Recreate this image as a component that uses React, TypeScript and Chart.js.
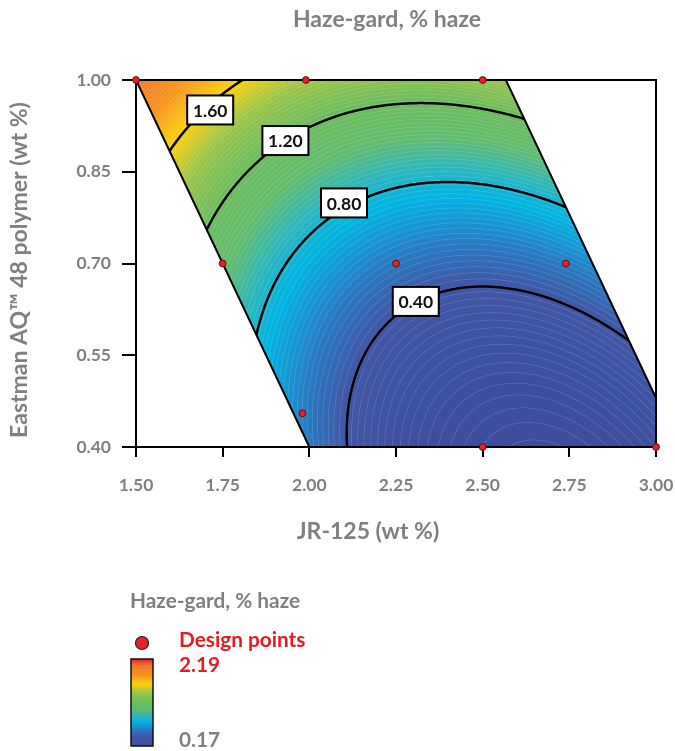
import React, { useEffect, useRef } from 'react';
import { Chart, registerables } from 'chart.js';

Chart.register(...registerables);

// ---------------- data ----------------
const designX = [1.5, 1.99, 2.5, 1.75, 2.25, 2.74, 1.98, 2.5, 3.0];
const designY = [1.0, 1.0, 1.0, 0.7, 0.7, 0.7, 0.455, 0.4, 0.4];
// feasible (constrained) design region, polygon vertices
const regionX = [1.5, 2.567, 3.0, 3.0, 2.0];
const regionY = [1.0, 1.0, 0.48, 0.4, 0.4];
const contourLevels = [0.4, 0.8, 1.2, 1.6];
const contourLabelX = [2.307, 2.1, 1.931, 1.714];
const contourLabelY = [0.638, 0.799, 0.901, 0.951];
const xTickValues = [1.5, 1.75, 2.0, 2.25, 2.5, 2.75, 3.0];
const yTickValues = [0.4, 0.55, 0.7, 0.85, 1.0];
const hazeRange = [0.17, 2.19];
// quadratic response surface: b0, bX, bY, bXX, bYY, bXY
const surfaceCoef = [9.39, -6.325, -5.181, 1.094, 2.915, 1.291];

// ---------------- styles ----------------
const FONT = 'Lato, "Open Sans", sans-serif';
const GRAY = '#7f7f7f';
const RED = '#e31b23';
const COLOR_STOPS: [number, string][] = [
  [0.0, '#3d4e9e'],
  [0.12, '#3f58a7'],
  [0.2, '#2384c8'],
  [0.28, '#00b5e3'],
  [0.34, '#2bb6bf'],
  [0.42, '#62bc6e'],
  [0.52, '#6dbd5d'],
  [0.62, '#9cc64a'],
  [0.71, '#fdd10d'],
  [0.81, '#f7951e'],
  [0.92, '#f2792b'],
  [1.0, '#e5202a'],
];

function hexRgb(h: string): number[] {
  return [parseInt(h.slice(1, 3), 16), parseInt(h.slice(3, 5), 16), parseInt(h.slice(5, 7), 16)];
}
const STOP_RGB = COLOR_STOPS.map(([t, c]) => [t, hexRgb(c)] as [number, number[]]);

function colorAt(t: number): number[] {
  if (t <= 0) return STOP_RGB[0][1].slice();
  if (t >= 1) return STOP_RGB[STOP_RGB.length - 1][1].slice();
  for (let i = 1; i < STOP_RGB.length; i++) {
    const [t1, c1] = STOP_RGB[i];
    const [t0, c0] = STOP_RGB[i - 1];
    if (t <= t1) {
      const u = (t - t0) / (t1 - t0);
      return [c0[0] + (c1[0] - c0[0]) * u, c0[1] + (c1[1] - c0[1]) * u, c0[2] + (c1[2] - c0[2]) * u];
    }
  }
  return STOP_RGB[STOP_RGB.length - 1][1].slice();
}

function surface(x: number, y: number): number {
  const c = surfaceCoef;
  return c[0] + c[1] * x + c[2] * y + c[3] * x * x + c[4] * y * y + c[5] * x * y;
}
function surfaceGrad(x: number, y: number): number[] {
  const c = surfaceCoef;
  return [c[1] + 2 * c[3] * x + c[5] * y, c[2] + 2 * c[4] * y + c[5] * x];
}

function polygonPath(ctx: CanvasRenderingContext2D, xs: any, ys: any) {
  ctx.beginPath();
  regionX.forEach((vx, i) => {
    const px = xs.getPixelForValue(vx);
    const py = ys.getPixelForValue(regionY[i]);
    if (i === 0) ctx.moveTo(px, py);
    else ctx.lineTo(px, py);
  });
  ctx.closePath();
}

function contourSegments(level: number, x0: number, x1: number, y0: number, y1: number, nx: number, ny: number) {
  const vals: number[] = new Array((nx + 1) * (ny + 1));
  const gx = (i: number) => x0 + ((x1 - x0) * i) / nx;
  const gy = (j: number) => y0 + ((y1 - y0) * j) / ny;
  for (let j = 0; j <= ny; j++) for (let i = 0; i <= nx; i++) vals[j * (nx + 1) + i] = surface(gx(i), gy(j)) - level;
  const segs: number[][] = [];
  for (let j = 0; j < ny; j++) {
    for (let i = 0; i < nx; i++) {
      const a = vals[j * (nx + 1) + i];
      const b = vals[j * (nx + 1) + i + 1];
      const c = vals[(j + 1) * (nx + 1) + i + 1];
      const d = vals[(j + 1) * (nx + 1) + i];
      const pts: number[][] = [];
      const xa = gx(i), xb = gx(i + 1), ya = gy(j), yb = gy(j + 1);
      if ((a < 0) !== (b < 0)) pts.push([xa + ((xb - xa) * a) / (a - b), ya]);
      if ((b < 0) !== (c < 0)) pts.push([xb, ya + ((yb - ya) * b) / (b - c)]);
      if ((c < 0) !== (d < 0)) pts.push([xb + ((xa - xb) * c) / (c - d), yb]);
      if ((d < 0) !== (a < 0)) pts.push([xa, yb + ((ya - yb) * d) / (d - a)]);
      if (pts.length >= 2) segs.push([pts[0][0], pts[0][1], pts[1][0], pts[1][1]]);
      if (pts.length === 4) segs.push([pts[2][0], pts[2][1], pts[3][0], pts[3][1]]);
    }
  }
  return segs;
}

const surfacePlugin = {
  id: 'surfacePlugin',
  beforeDatasetsDraw(chart: any) {
    const { ctx, chartArea } = chart;
    const xs = chart.scales.x;
    const ys = chart.scales.y;
    const L = Math.floor(chartArea.left);
    const T = Math.floor(chartArea.top);
    const W = Math.ceil(chartArea.right) - L;
    const H = Math.ceil(chartArea.bottom) - T;
    const off = document.createElement('canvas');
    off.width = W;
    off.height = H;
    const octx = off.getContext('2d')!;
    const img = octx.createImageData(W, H);
    const [vmin, vmax] = hazeRange;
    const step = (vmax - vmin) / 100;
    const dxpp = Math.abs(xs.getValueForPixel(L + 1) - xs.getValueForPixel(L));
    const dypp = Math.abs(ys.getValueForPixel(T + 1) - ys.getValueForPixel(T));
    for (let py = 0; py < H; py++) {
      const dy = ys.getValueForPixel(T + py + 0.5);
      for (let px = 0; px < W; px++) {
        const dx = xs.getValueForPixel(L + px + 0.5);
        const v = surface(dx, dy);
        const col = colorAt((v - vmin) / (vmax - vmin));
        const g = surfaceGrad(dx, dy);
        const gp = Math.max(Math.hypot(g[0] * dxpp, g[1] * dypp), 1e-6);
        const q = v / step;
        const dist = (Math.abs(q - Math.round(q)) * step) / gp;
        const w = Math.max(0, 1 - dist / 0.75) * 0.15;
        const k = (py * W + px) * 4;
        img.data[k] = col[0] + (255 - col[0]) * w;
        img.data[k + 1] = col[1] + (255 - col[1]) * w;
        img.data[k + 2] = col[2] + (255 - col[2]) * w;
        img.data[k + 3] = 255;
      }
    }
    octx.putImageData(img, 0, 0);

    ctx.save();
    polygonPath(ctx, xs, ys);
    ctx.clip();
    ctx.drawImage(off, L, T);
    ctx.strokeStyle = '#000';
    ctx.lineWidth = 2.5;
    ctx.lineCap = 'round';
    ctx.lineJoin = 'round';
    contourLevels.forEach((lev) => {
      const segs = contourSegments(lev, xs.min, xs.max, ys.min, ys.max, 300, 200);
      ctx.beginPath();
      segs.forEach((s) => {
        ctx.moveTo(xs.getPixelForValue(s[0]), ys.getPixelForValue(s[1]));
        ctx.lineTo(xs.getPixelForValue(s[2]), ys.getPixelForValue(s[3]));
      });
      ctx.stroke();
    });
    ctx.restore();

    // region outline
    ctx.save();
    polygonPath(ctx, xs, ys);
    ctx.strokeStyle = '#000';
    ctx.lineWidth = 2;
    ctx.lineJoin = 'miter';
    ctx.stroke();
    // frame top / right
    ctx.beginPath();
    ctx.moveTo(chartArea.left, chartArea.top);
    ctx.lineTo(chartArea.right, chartArea.top);
    ctx.lineTo(chartArea.right, chartArea.bottom);
    ctx.lineWidth = 2;
    ctx.stroke();

    // contour labels
    ctx.font = `bold 17.5px ${FONT}`;
    ctx.textAlign = 'center';
    ctx.textBaseline = 'middle';
    contourLevels.forEach((lev, i) => {
      const cx = xs.getPixelForValue(contourLabelX[i]);
      const cy = ys.getPixelForValue(contourLabelY[i]);
      const bw = 46, bh = 29;
      ctx.fillStyle = '#fff';
      ctx.fillRect(cx - bw / 2, cy - bh / 2, bw, bh);
      ctx.lineWidth = 2;
      ctx.strokeStyle = '#000';
      ctx.strokeRect(cx - bw / 2, cy - bh / 2, bw, bh);
      ctx.fillStyle = '#111';
      ctx.fillText(lev.toFixed(2), cx, cy + 1);
    });
    ctx.restore();
  },
  afterDraw(chart: any) {
    const { ctx } = chart;
    ctx.save();
    ctx.fillStyle = GRAY;
    ctx.textBaseline = 'alphabetic';
    // chart title
    ctx.font = `bold 23px ${FONT}`;
    ctx.textAlign = 'center';
    ctx.fillText('Haze-gard, % haze', 387, 27);
    // x title
    ctx.fillText('JR-125 (wt %)', 368, 539);
    // y title
    ctx.save();
    ctx.translate(27, 270);
    ctx.rotate(-Math.PI / 2);
    ctx.fillText('Eastman AQ\u2122 48 polymer (wt %)', 0, 0);
    ctx.restore();

    // legend
    ctx.textAlign = 'left';
    ctx.font = `bold 20.8px ${FONT}`;
    ctx.fillStyle = GRAY;
    ctx.fillText('Haze-gard, % haze', 130, 608);
    ctx.beginPath();
    ctx.arc(142, 643, 6.5, 0, Math.PI * 2);
    ctx.fillStyle = '#e8202a';
    ctx.fill();
    ctx.lineWidth = 1.2;
    ctx.strokeStyle = '#222';
    ctx.stroke();
    ctx.fillStyle = RED;
    ctx.fillText('Design points', 179, 646.5);
    ctx.fillText(hazeRange[1].toFixed(2), 179, 672);
    ctx.fillStyle = GRAY;
    ctx.fillText(hazeRange[0].toFixed(2), 179, 747);
    const bx = 131, by = 659, bw = 22, bh = 87;
    const grad = ctx.createLinearGradient(0, by + bh, 0, by);
    COLOR_STOPS.forEach(([t, c]) => grad.addColorStop(t, c));
    ctx.fillStyle = grad;
    ctx.fillRect(bx, by, bw, bh);
    ctx.lineWidth = 1.5;
    ctx.strokeStyle = '#111';
    ctx.strokeRect(bx, by, bw, bh);
    ctx.restore();
  },
};

export default function App() {
  const ref = useRef<HTMLCanvasElement>(null);
  useEffect(() => {
    document.body.style.margin = '0';
    const canvas = ref.current!;
    const tickFont = { family: FONT, size: 17.5, weight: 'bold' as const };
    const chart = new Chart(canvas, {
      type: 'scatter',
      data: {
        datasets: [
          {
            label: 'Design points',
            data: designX.map((x, i) => ({ x, y: designY[i] })),
            pointRadius: 3.4,
            pointHoverRadius: 3.4,
            pointBackgroundColor: '#e8202a',
            pointBorderColor: '#5a0d0d',
            pointBorderWidth: 1,
            clip: false as any,
          },
        ],
      },
      options: {
        responsive: false,
        animation: false,
        devicePixelRatio: 1,
        layout: { padding: { top: 80, right: 0, left: 0, bottom: 0 } },
        plugins: { legend: { display: false }, title: { display: false }, tooltip: { enabled: false } },
        events: [],
        scales: {
          x: {
            type: 'linear',
            min: 1.5,
            max: 3.0,
            afterBuildTicks: (s: any) => {
              s.ticks = xTickValues.map((v) => ({ value: v }));
            },
            afterFit: (s: any) => {
              s.height = 304;
              s.paddingLeft = 0;
              s.paddingRight = 19;
            },
            ticks: {
              font: tickFont,
              color: GRAY,
              padding: 18,
              maxRotation: 0,
              autoSkip: false,
              callback: (v: any) => Number(v).toFixed(2),
            },
            grid: { display: true, drawOnChartArea: false, drawTicks: true, tickLength: 10, color: '#000', lineWidth: 2 },
            border: { display: true, color: '#000', width: 2 },
          },
          y: {
            type: 'linear',
            min: 0.4,
            max: 1.0,
            afterBuildTicks: (s: any) => {
              s.ticks = yTickValues.map((v) => ({ value: v }));
            },
            afterFit: (s: any) => {
              s.width = 136;
              s.paddingTop = 0;
              s.paddingBottom = 0;
            },
            ticks: {
              font: tickFont,
              color: GRAY,
              padding: 11,
              autoSkip: false,
              callback: (v: any) => Number(v).toFixed(2),
            },
            grid: { display: true, drawOnChartArea: false, drawTicks: true, tickLength: 14, color: '#000', lineWidth: 2 },
            border: { display: true, color: '#000', width: 2 },
          },
        },
      },
      plugins: [surfacePlugin],
    });
    return () => chart.destroy();
  }, []);
  return <canvas ref={ref} width={675} height={751} style={{ display: 'block' }} />;
}
